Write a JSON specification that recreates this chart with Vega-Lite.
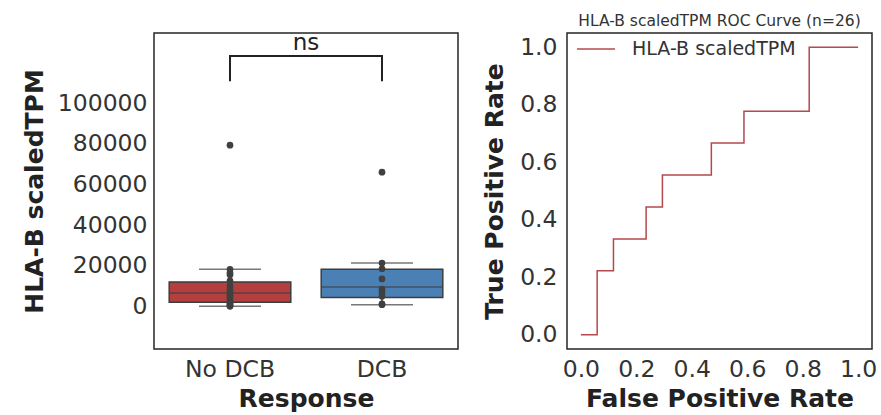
{
  "$schema": "https://vega.github.io/schema/vega-lite/v6.json",
  "background": "white",
  "padding": {"left": 21, "top": 12, "right": 5, "bottom": 5},
  "bounds": "flush",
  "spacing": 109,
  "resolve": {
    "scale": {"color": "independent", "fill": "independent"},
    "legend": {"color": "independent", "fill": "independent"}
  },
  "config": {
    "font": "DejaVu Sans",
    "view": {"stroke": "#262626", "strokeWidth": 1.5},
    "axis": {
      "grid": false, "ticks": false, "domain": false,
      "labelFont": "DejaVu Sans", "labelFontSize": 23.5, "labelColor": "#333333",
      "titleFont": "DejaVu Sans", "titleFontSize": 25, "titleFontWeight": "bold", "titleColor": "#222222",
      "labelPadding": 8
    }
  },
  "datasets": {
    "pts": [
      {"group": "No DCB", "value": 79300},
      {"group": "No DCB", "value": 18200},
      {"group": "No DCB", "value": 16500},
      {"group": "No DCB", "value": 15500},
      {"group": "No DCB", "value": 12500},
      {"group": "No DCB", "value": 10000},
      {"group": "No DCB", "value": 8000},
      {"group": "No DCB", "value": 7000},
      {"group": "No DCB", "value": 6500},
      {"group": "No DCB", "value": 5500},
      {"group": "No DCB", "value": 4500},
      {"group": "No DCB", "value": 3000},
      {"group": "No DCB", "value": 2000},
      {"group": "No DCB", "value": 1500},
      {"group": "No DCB", "value": 800},
      {"group": "No DCB", "value": 300},
      {"group": "No DCB", "value": 0},
      {"group": "DCB", "value": 66000},
      {"group": "DCB", "value": 21300},
      {"group": "DCB", "value": 18500},
      {"group": "DCB", "value": 13500},
      {"group": "DCB", "value": 8500},
      {"group": "DCB", "value": 7000},
      {"group": "DCB", "value": 5000},
      {"group": "DCB", "value": 1200},
      {"group": "DCB", "value": 800}
    ],
    "stats": [
      {"group": "No DCB", "lower": 0, "q1": 2000, "median": 6500, "q3": 12000, "upper": 18200},
      {"group": "DCB", "lower": 800, "q1": 4400, "median": 9500, "q3": 18200, "upper": 21300}
    ],
    "bracket": [
      {"group": "No DCB", "y": 110800, "i": 1},
      {"group": "No DCB", "y": 123200, "i": 2},
      {"group": "DCB", "y": 123200, "i": 3},
      {"group": "DCB", "y": 110800, "i": 4}
    ],
    "roc": [
      {"i": 1, "fpr": 0, "tpr": 0, "series": "HLA-B scaledTPM"},
      {"i": 2, "fpr": 0.0588, "tpr": 0, "series": "HLA-B scaledTPM"},
      {"i": 3, "fpr": 0.0588, "tpr": 0.2222, "series": "HLA-B scaledTPM"},
      {"i": 4, "fpr": 0.1176, "tpr": 0.2222, "series": "HLA-B scaledTPM"},
      {"i": 5, "fpr": 0.1176, "tpr": 0.3333, "series": "HLA-B scaledTPM"},
      {"i": 6, "fpr": 0.2353, "tpr": 0.3333, "series": "HLA-B scaledTPM"},
      {"i": 7, "fpr": 0.2353, "tpr": 0.4444, "series": "HLA-B scaledTPM"},
      {"i": 8, "fpr": 0.2941, "tpr": 0.4444, "series": "HLA-B scaledTPM"},
      {"i": 9, "fpr": 0.2941, "tpr": 0.5556, "series": "HLA-B scaledTPM"},
      {"i": 10, "fpr": 0.4706, "tpr": 0.5556, "series": "HLA-B scaledTPM"},
      {"i": 11, "fpr": 0.4706, "tpr": 0.6667, "series": "HLA-B scaledTPM"},
      {"i": 12, "fpr": 0.5882, "tpr": 0.6667, "series": "HLA-B scaledTPM"},
      {"i": 13, "fpr": 0.5882, "tpr": 0.7778, "series": "HLA-B scaledTPM"},
      {"i": 14, "fpr": 0.8235, "tpr": 0.7778, "series": "HLA-B scaledTPM"},
      {"i": 15, "fpr": 0.8235, "tpr": 1, "series": "HLA-B scaledTPM"},
      {"i": 16, "fpr": 1, "tpr": 1, "series": "HLA-B scaledTPM"}
    ]
  },
  "hconcat": [
    {
      "width": 304,
      "height": 316,
      "resolve": {"scale": {"x": "independent"}, "axis": {"x": "independent"}},
      "layer": [
        {
          "encoding": {
            "x": {
              "field": "group", "type": "nominal",
              "scale": {"domain": ["No DCB", "DCB"], "paddingInner": 0, "paddingOuter": 0},
              "axis": {"title": "Response", "labelAngle": 0, "labelPadding": 8, "titlePadding": 6}
            }
          },
          "layer": [
            {
              "data": {"name": "stats"},
              "mark": {"type": "rule", "stroke": "#3d3d3d", "strokeWidth": 1.5},
              "encoding": {
                "y": {
                  "field": "lower", "type": "quantitative",
                  "scale": {"domain": [-21000, 134500], "nice": false, "zero": false},
                  "axis": {"title": "HLA-B scaledTPM", "values": [0, 20000, 40000, 60000, 80000, 100000], "format": "d", "labelPadding": 7, "titlePadding": 10}
                },
                "y2": {"field": "upper"}
              }
            },
            {
              "data": {"name": "stats"},
              "mark": {"type": "bar", "width": {"band": 0.8}, "stroke": "#3d3d3d", "strokeWidth": 1.5},
              "encoding": {
                "y": {"field": "q1", "type": "quantitative"},
                "y2": {"field": "q3"},
                "fill": {
                  "field": "group", "type": "nominal",
                  "scale": {"domain": ["No DCB", "DCB"], "range": ["#b3403f", "#4b80b5"]},
                  "legend": null
                }
              }
            },
            {
              "data": {"name": "stats"},
              "mark": {"type": "tick", "color": "#3d3d3d", "thickness": 1.5, "size": 122},
              "encoding": {"y": {"field": "median", "type": "quantitative"}}
            },
            {
              "data": {"name": "stats"},
              "mark": {"type": "tick", "color": "#3d3d3d", "thickness": 1.5, "size": 62},
              "encoding": {"y": {"field": "lower", "type": "quantitative"}}
            },
            {
              "data": {"name": "stats"},
              "mark": {"type": "tick", "color": "#3d3d3d", "thickness": 1.5, "size": 62},
              "encoding": {"y": {"field": "upper", "type": "quantitative"}}
            },
            {
              "data": {"name": "pts"},
              "mark": {"type": "circle", "size": 45, "color": "#404040", "opacity": 1},
              "encoding": {"y": {"field": "value", "type": "quantitative"}}
            },
            {
              "data": {"name": "bracket"},
              "mark": {"type": "line", "stroke": "#222222", "strokeWidth": 2},
              "encoding": {
                "y": {"field": "y", "type": "quantitative"},
                "order": {"field": "i", "type": "quantitative"}
              }
            }
          ]
        },
        {
          "data": {"values": [{"label": "ns", "pos": 0.5, "y": 129500}]},
          "mark": {"type": "text", "fontSize": 23, "color": "#222222", "baseline": "middle", "align": "center"},
          "encoding": {
            "x": {"field": "pos", "type": "quantitative", "scale": {"domain": [0, 1]}, "axis": null},
            "y": {"field": "y", "type": "quantitative"},
            "text": {"field": "label"}
          }
        }
      ]
    },
    {
      "width": 305,
      "height": 316,
      "title": {"text": "HLA-B scaledTPM ROC Curve (n=26)", "fontSize": 15.5, "fontWeight": "normal", "color": "#333333", "font": "DejaVu Sans", "offset": 0},
      "data": {"name": "roc"},
      "mark": {"type": "line", "strokeWidth": 1.5},
      "encoding": {
        "x": {
          "field": "fpr", "type": "quantitative",
          "scale": {"domain": [-0.05, 1.05], "nice": false, "zero": false},
          "axis": {"title": "False Positive Rate", "values": [0, 0.2, 0.4, 0.6, 0.8, 1], "format": ".1f", "labelPadding": 8, "titlePadding": 6}
        },
        "y": {
          "field": "tpr", "type": "quantitative",
          "scale": {"domain": [-0.05, 1.05], "nice": false, "zero": false},
          "axis": {"title": "True Positive Rate", "values": [0, 0.2, 0.4, 0.6, 0.8, 1], "format": ".1f", "labelPadding": 10, "titlePadding": 12}
        },
        "order": {"field": "i", "type": "quantitative"},
        "color": {
          "field": "series", "type": "nominal",
          "scale": {"domain": ["HLA-B scaledTPM"], "range": ["#b5484c"]},
          "legend": {
            "title": null, "orient": "none", "legendX": 9, "legendY": -4, "padding": 0,
            "symbolType": "stroke", "symbolSize": 1444, "symbolStrokeWidth": 1.5,
            "labelFontSize": 19, "labelFont": "DejaVu Sans", "labelColor": "#333333", "labelOffset": 16, "labelLimit": 400
          }
        }
      }
    }
  ]
}
